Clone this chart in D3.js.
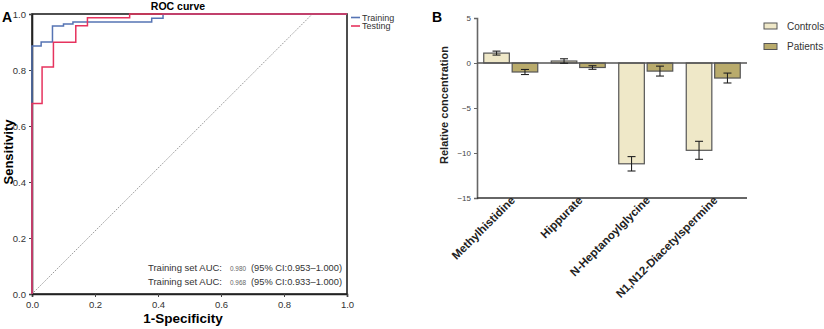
<!DOCTYPE html>
<html><head><meta charset="utf-8">
<script src="https://cdn.jsdelivr.net/npm/d3@7"></script>
<style>body{margin:0;background:#fff;} text{font-family:"Liberation Sans",Arial,sans-serif;}</style>
</head><body>
<svg id="c" width="824" height="329"></svg>
<script>
// ---- Panel A data (ROC step curves: [fpr, tpr]) ----
const trainingROC = [[0,0],[0,0.886],[0.029,0.886],[0.029,0.9],[0.065,0.9],[0.065,0.957],[0.1,0.957],[0.1,0.964],[0.13,0.964],[0.13,0.971],[0.38,0.971],[0.38,0.985],[0.416,0.985],[0.416,1],[1,1]];
const testingROC = [[0,0],[0,0.68],[0.032,0.68],[0.032,0.811],[0.068,0.811],[0.068,0.899],[0.139,0.899],[0.139,0.958],[0.176,0.958],[0.176,0.987],[0.31,0.987],[0.31,1],[1,1]];
const refLine = [[0,0],[0.89,1]];
const rocTicks = [0,0.2,0.4,0.6,0.8,1.0];
const aucLabels = ["Training set AUC:","Training set AUC:"];
const aucValues = ["0.980","0.968"];
const aucCI = ["(95% CI:0.953–1.000)","(95% CI:0.933–1.000)"];
const rocSeries = ["Training","Testing"];

// ---- Panel B data ----
const metabolites = ["Methylhistidine","Hippurate","N-Heptanoylglycine","N1,N12-Diacetylspermine"];
const groups = ["Controls","Patients"];
const controlsMean = [1.1, 0.22, -11.2, -9.7];
const controlsErr = [0.22, 0.25, 0.8, 1.0];
const patientsMean = [-1.0, -0.5, -0.9, -1.67];
const patientsErr = [0.28, 0.2, 0.55, 0.55];
const concTicks = [5,0,-5,-10,-15];

const svg = d3.select("#c");
const blue = "#5674b4", red = "#e6335e";

// ===== Panel A =====
const xA = d3.scaleLinear().domain([0,1]).range([32,347]);
const yA = d3.scaleLinear().domain([0,1]).range([294,14]);
const gA = svg.append("g");

gA.append("rect").attr("x",xA(0)).attr("y",yA(1)).attr("width",xA(1)-xA(0)).attr("height",yA(0)-yA(1))
  .attr("fill","none").attr("stroke","#222").attr("stroke-width",1.6);

const xAxA = gA.append("g").attr("transform",`translate(0,${yA(0)})`)
  .call(d3.axisBottom(xA).tickValues(rocTicks).tickFormat(d3.format(".1f")).tickSize(3));
const yAxA = gA.append("g").attr("transform",`translate(${xA(0)},0)`)
  .call(d3.axisLeft(yA).tickValues(rocTicks).tickFormat(d3.format(".1f")).tickSize(3));
[xAxA,yAxA].forEach(a=>{a.select(".domain").attr("stroke","#222").attr("stroke-width",1.6);
  a.selectAll(".tick line").attr("stroke","#444");
  a.selectAll(".tick text").attr("font-size",9.5).attr("fill","#333").attr("font-family","Liberation Sans, Arial");});
xAxA.selectAll(".tick text").attr("dy","0.85em");

const lineA = d3.line().x(d=>xA(d[0])).y(d=>yA(d[1]));
gA.append("path").datum(refLine).attr("d",lineA).attr("stroke","#999").attr("stroke-width",1)
  .attr("stroke-dasharray","1.5,1.2").attr("fill","none");
gA.append("path").datum(trainingROC).attr("d",lineA).attr("stroke",blue).attr("stroke-width",1.5).attr("fill","none");
gA.append("path").datum(testingROC).attr("d",lineA).attr("stroke",red).attr("stroke-width",1.5).attr("fill","none");

gA.append("text").attr("x",178).attr("y",10).attr("text-anchor","middle").attr("font-size",10.5).attr("font-weight","bold").text("ROC curve");
gA.append("text").attr("x",2).attr("y",22).attr("font-size",14).attr("font-weight","bold").text("A");
gA.append("text").attr("transform","translate(13,152) rotate(-90)").attr("text-anchor","middle").attr("font-size",13).attr("font-weight","bold").text("Sensitivity");
gA.append("text").attr("x",183).attr("y",323).attr("text-anchor","middle").attr("font-size",13.5).attr("font-weight","bold").text("1-Specificity");

// legend
rocSeries.forEach((s,i)=>{
  const y = 17.5 + i*8.5;
  gA.append("line").attr("x1",351).attr("x2",360).attr("y1",y).attr("y2",y).attr("stroke",i?red:blue).attr("stroke-width",1.6);
  gA.append("text").attr("x",362).attr("y",y+3).attr("font-size",9).attr("fill","#333").text(s);
});
// AUC text
aucLabels.forEach((l,i)=>{
  const y = 271 + i*14;
  gA.append("text").attr("x",148).attr("y",y).attr("font-size",9.5).attr("fill","#333")
    .attr("textLength",74).attr("lengthAdjust","spacingAndGlyphs").text(l);
  gA.append("text").attr("x",230).attr("y",y-0.5).attr("font-size",6.3).attr("fill","#666")
    .attr("textLength",16).attr("lengthAdjust","spacingAndGlyphs").text(aucValues[i]);
  gA.append("text").attr("x",251).attr("y",y).attr("font-size",9.5).attr("fill","#333")
    .attr("textLength",91).attr("lengthAdjust","spacingAndGlyphs").text(aucCI[i]);
});

// ===== Panel B =====
const gB = svg.append("g");
const x0 = d3.scaleBand().domain(metabolites).range([477,747]).paddingInner(0.2).paddingOuter(0.1);
const x1 = d3.scaleBand().domain(groups).range([0,x0.bandwidth()]).paddingInner(0.1);
const yB = d3.scaleLinear().domain([-15,5]).range([198,18]);
const fillB = {Controls:"#efe8c8", Patients:"#b9ab6c"};

gB.append("text").attr("x",432).attr("y",22).attr("font-size",14).attr("font-weight","bold").text("B");

const yAxB = gB.append("g").attr("transform","translate(477,0)")
  .call(d3.axisLeft(yB).tickValues(concTicks).tickSize(3).tickFormat(d=>d<0?"−"+Math.abs(d):d));
yAxB.select(".domain").attr("stroke","#666").attr("stroke-width",1.6);
yAxB.selectAll(".tick line").attr("stroke","#666");
yAxB.selectAll(".tick text").attr("font-size",8).attr("fill","#444");

gB.append("line").attr("x1",477).attr("x2",747).attr("y1",yB(-15)).attr("y2",yB(-15)).attr("stroke","#333").attr("stroke-width",1.6);

const rows = [];
metabolites.forEach((m,i)=>{
  rows.push({m,g:"Controls",v:controlsMean[i],e:controlsErr[i]});
  rows.push({m,g:"Patients",v:patientsMean[i],e:patientsErr[i]});
});
gB.selectAll("rect.bar").data(rows).join("rect").attr("class","bar")
  .attr("x",d=>x0(d.m)+x1(d.g)).attr("width",x1.bandwidth())
  .attr("y",d=>yB(Math.max(0,d.v))).attr("height",d=>Math.abs(yB(d.v)-yB(0)))
  .attr("fill",d=>fillB[d.g]).attr("stroke","#555").attr("stroke-width",1.2);

gB.append("line").attr("x1",477).attr("x2",747).attr("y1",yB(0)).attr("y2",yB(0)).attr("stroke","#555").attr("stroke-width",1.3);

rows.forEach(d=>{
  const cx = x0(d.m)+x1(d.g)+x1.bandwidth()/2;
  gB.append("line").attr("x1",cx).attr("x2",cx).attr("y1",yB(d.v+d.e)).attr("y2",yB(d.v-d.e)).attr("stroke","#222").attr("stroke-width",1.1);
  [d.v+d.e,d.v-d.e].forEach(v=>gB.append("line").attr("x1",cx-4).attr("x2",cx+4).attr("y1",yB(v)).attr("y2",yB(v)).attr("stroke","#222").attr("stroke-width",1.1));
});

metabolites.forEach(m=>{
  const cx = x0(m)+x0.bandwidth()/2+5;
  gB.append("text").attr("transform",`translate(${cx},201) rotate(-45)`).attr("text-anchor","end")
    .attr("font-size",11.5).attr("font-weight","bold").attr("fill","#222").text(m);
});

gB.append("text").attr("transform","translate(448,105) rotate(-90)").attr("text-anchor","middle")
  .attr("font-size",11).attr("font-weight","bold").attr("fill","#222").text("Relative concentration");

groups.forEach((g,i)=>{
  const y = 26 + i*20.5;
  gB.append("rect").attr("x",764).attr("y",y-3).attr("width",13).attr("height",6).attr("fill",fillB[g]).attr("stroke","#555").attr("stroke-width",1);
  gB.append("text").attr("x",787).attr("y",y+3.5).attr("font-size",10).attr("fill","#333").text(g);
});
</script>
</body></html>
